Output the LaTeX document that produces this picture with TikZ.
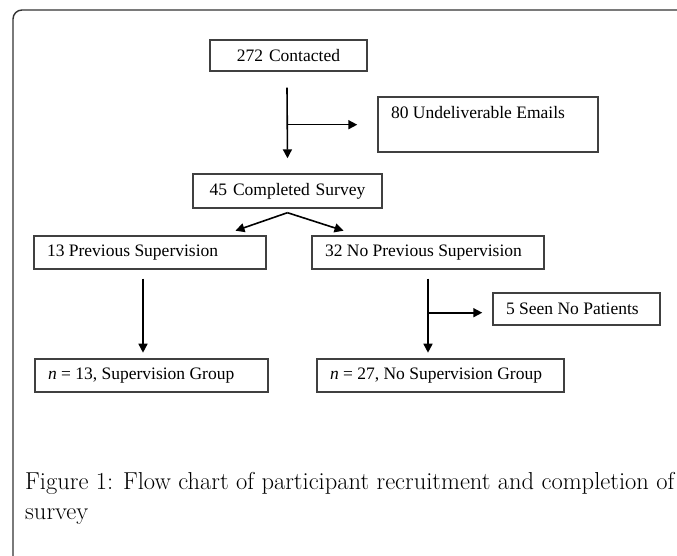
\documentclass[tikz,border=0pt]{standalone}
\usepackage{fontspec}
\usepackage{tikz}
\usetikzlibrary{arrows.meta,positioning,calc}
\newfontfamily\boxfont{Liberation Serif}

\tikzset{
  box/.style={rectangle, draw=black!75, line width=1.4pt, inner xsep=13pt, inner ysep=0pt,
    font=\boxfont\fontsize{17.5}{20}\selectfont, align=flush left},
  flow/.style={-{Triangle[length=9pt,width=9pt]}, line width=1.6pt}
}

\begin{document}
\begin{tikzpicture}[x=1pt, y=-1pt]
\useasboundingbox (0,0) rectangle (677,556);
\fill[white] (0,0) rectangle (677,556);
\draw[black!80, line width=1.4pt, rounded corners=9pt] (13,10) rectangle (700,580);

\node[box, align=center, text width=131pt, minimum height=31pt] (contacted) at (288.5,55.5) {272 Contacted};
\node[box, text width=194pt, text height=22pt, text depth=33pt] (undeliverable) at (488,124.5) {80 Undeliverable Emails};
\node[box, align=center, text width=163pt, minimum height=34pt] (completed) at (287.5,191) {45 Completed Survey};
\node[box, text width=206pt, minimum height=33pt] (prev_sup) at (150,252.5) {13 Previous Supervision};
\node[box, text width=206pt, minimum height=33pt] (no_prev_sup) at (428,252.5) {32 No Previous Supervision};
\node[box, text width=141pt, minimum height=32pt] (no_patients) at (576.5,309) {5 Seen No Patients};
\node[box, text width=207pt, minimum height=33pt] (sup_group) at (151.5,375.5) {\textit{n} = 13, Supervision Group};
\node[box, text width=221pt, minimum height=33pt] (no_sup_group) at (440.5,375.5) {\textit{n} = 27, No Supervision Group};

\coordinate (split_a) at ([xshift=-1.5pt,yshift=-53pt]contacted.south);
\coordinate (split_b) at ([yshift=-43pt]no_prev_sup.south);

\path[flow] ([xshift=-1.5pt,yshift=-16pt]contacted.south) edge ([yshift=15pt]completed.north);
\path[flow] (split_a) edge ([xshift=-20pt]split_a -| undeliverable.west);
\path[flow] ([yshift=-4pt]completed.south) edge ([xshift=-52pt,yshift=-22pt]completed.south);
\path[flow] ([yshift=-4pt]completed.south) edge ([xshift=56pt,yshift=-22pt]completed.south);
\path[flow] ([xshift=-7pt,yshift=-9pt]prev_sup.south) edge ([xshift=-7pt,yshift=-83pt]prev_sup.south);
\path[flow] ([yshift=-9pt]no_prev_sup.south) edge ([yshift=-83pt]no_prev_sup.south);
\path[flow] (split_b) edge ([xshift=-10pt]split_b -| no_patients.west);

\node[anchor=north west, inner sep=0pt, align=left, font=\fontsize{24.5}{30}\selectfont] (caption) at (25,472)
  {Figure 1: Flow chart of participant recruitment and completion of\\ survey};
\end{tikzpicture}
\end{document}
